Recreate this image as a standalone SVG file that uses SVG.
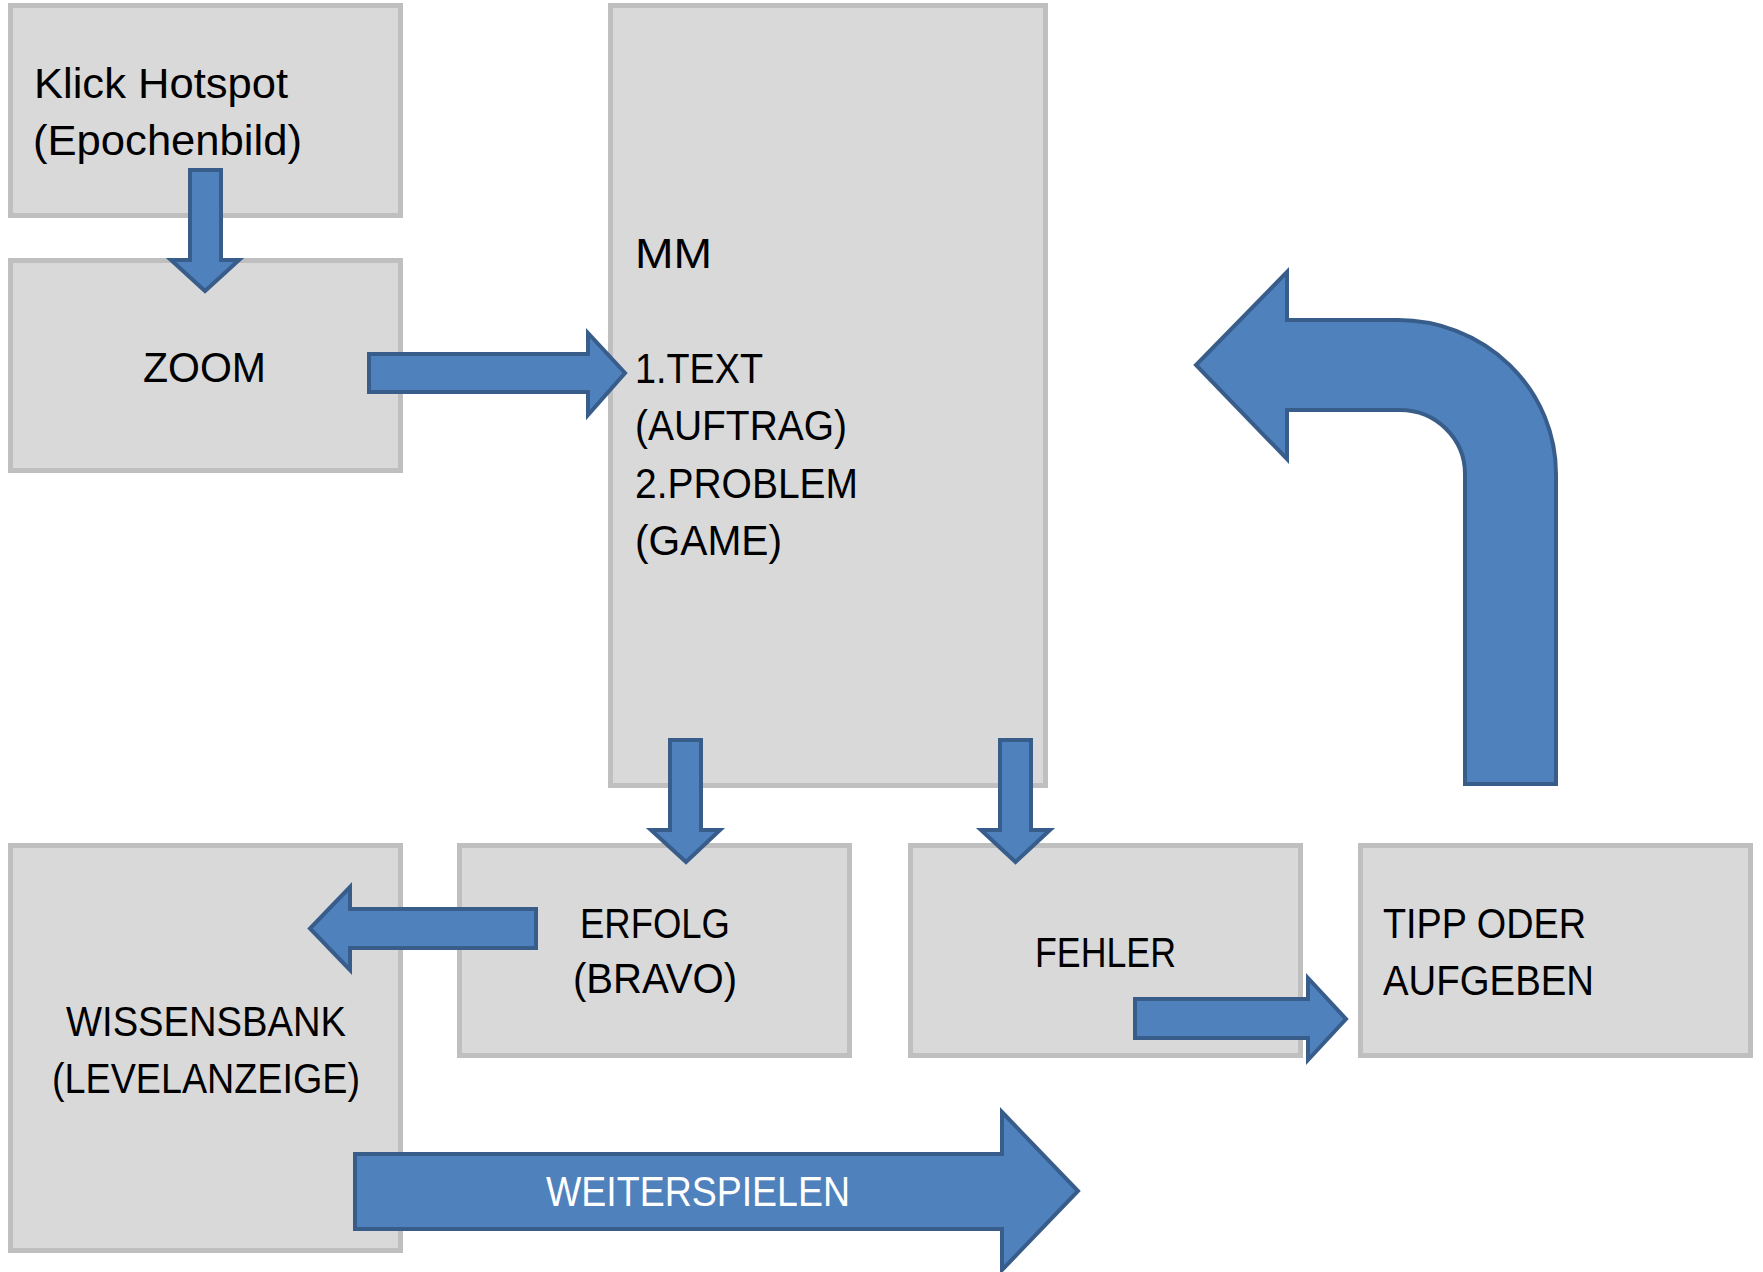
<svg xmlns="http://www.w3.org/2000/svg" width="1763" height="1272" viewBox="0 0 1763 1272">
<style>
.box{fill:#D9D9D9;stroke:#BFBFBF;stroke-width:5}
.arr{fill:#4F81BD;stroke:#385D8A;stroke-width:4;stroke-linejoin:miter}
.t{font-family:"Liberation Sans",Arial,sans-serif;font-size:42px;fill:#000}
.w{font-family:"Liberation Sans",Arial,sans-serif;font-size:42px;fill:#fff}
</style>
<rect width="1763" height="1272" fill="#fff"/>
<g id="node-klick">
<rect class="box" x="10.5" y="5.5" width="390" height="210"/>
<text class="t" x="34" y="98" textLength="254" lengthAdjust="spacingAndGlyphs">Klick Hotspot</text>
<text class="t" x="33" y="155" textLength="269" lengthAdjust="spacingAndGlyphs">(Epochenbild)</text>
</g>
<g id="node-zoom">
<rect class="box" x="10.5" y="260.5" width="390" height="210"/>
<text class="t" x="143" y="382" textLength="123" lengthAdjust="spacingAndGlyphs">ZOOM</text>
</g>
<g id="node-mm">
<rect class="box" x="610.5" y="5.5" width="435" height="780"/>
<text class="t" x="635" y="268" textLength="77" lengthAdjust="spacingAndGlyphs">MM</text>
<text class="t" x="635" y="383" textLength="128" lengthAdjust="spacingAndGlyphs">1.TEXT</text>
<text class="t" x="635" y="440" textLength="212" lengthAdjust="spacingAndGlyphs">(AUFTRAG)</text>
<text class="t" x="635" y="498" textLength="223" lengthAdjust="spacingAndGlyphs">2.PROBLEM</text>
<text class="t" x="635" y="555" textLength="147" lengthAdjust="spacingAndGlyphs">(GAME)</text>
</g>
<g id="node-wissensbank">
<rect class="box" x="10.5" y="845.5" width="390" height="405"/>
<text class="t" x="66" y="1036" textLength="280" lengthAdjust="spacingAndGlyphs">WISSENSBANK</text>
<text class="t" x="52" y="1093" textLength="308" lengthAdjust="spacingAndGlyphs">(LEVELANZEIGE)</text>
</g>
<g id="node-erfolg">
<rect class="box" x="459.5" y="845.5" width="390" height="210"/>
<text class="t" x="580" y="938" textLength="150" lengthAdjust="spacingAndGlyphs">ERFOLG</text>
<text class="t" x="573" y="993" textLength="164" lengthAdjust="spacingAndGlyphs">(BRAVO)</text>
</g>
<g id="node-fehler">
<rect class="box" x="910.5" y="845.5" width="390" height="210"/>
<text class="t" x="1035" y="967" textLength="141" lengthAdjust="spacingAndGlyphs">FEHLER</text>
</g>
<g id="node-tipp">
<rect class="box" x="1360.5" y="845.5" width="390" height="210"/>
<text class="t" x="1383" y="938" textLength="203" lengthAdjust="spacingAndGlyphs">TIPP ODER</text>
<text class="t" x="1383" y="995" textLength="211" lengthAdjust="spacingAndGlyphs">AUFGEBEN</text>
</g>
<g id="connectors">
<path class="arr" d="M190,170 L221,170 L221,260 L239,260 L205,291 L171,260 L190,260 Z"/>
<path class="arr" d="M369,354 L588,354 L588,333 L625,373 L588,415 L588,392 L369,392 Z"/>
<path class="arr" d="M670,740 L701,740 L701,830 L720,830 L686,862 L651,830 L670,830 Z"/>
<path class="arr" d="M1000,740 L1031,740 L1031,830 L1050,830 L1015.5,862 L981,830 L1000,830 Z"/>
<path class="arr" d="M536,909 L350,909 L350,887 L310,928.5 L350,970 L350,948 L536,948 Z"/>
<path class="arr" d="M1135,999 L1308,999 L1308,978 L1346,1019 L1308,1060 L1308,1038 L1135,1038 Z"/>
<path class="arr" d="M1556,784 L1556,474 A158,154 0 0 0 1398,320 L1287,320 L1287,272 L1196,365 L1287,459 L1287,410 L1400,410 A65,64 0 0 1 1465,474 L1465,784 Z"/>
<g id="edge-weiterspielen">
<path class="arr" d="M355,1154 L1002,1154 L1002,1112 L1078,1191 L1002,1270 L1002,1229 L355,1229 Z"/>
<text class="w" x="546" y="1206" textLength="304" lengthAdjust="spacingAndGlyphs">WEITERSPIELEN</text>
</g>
</g>
</svg>
